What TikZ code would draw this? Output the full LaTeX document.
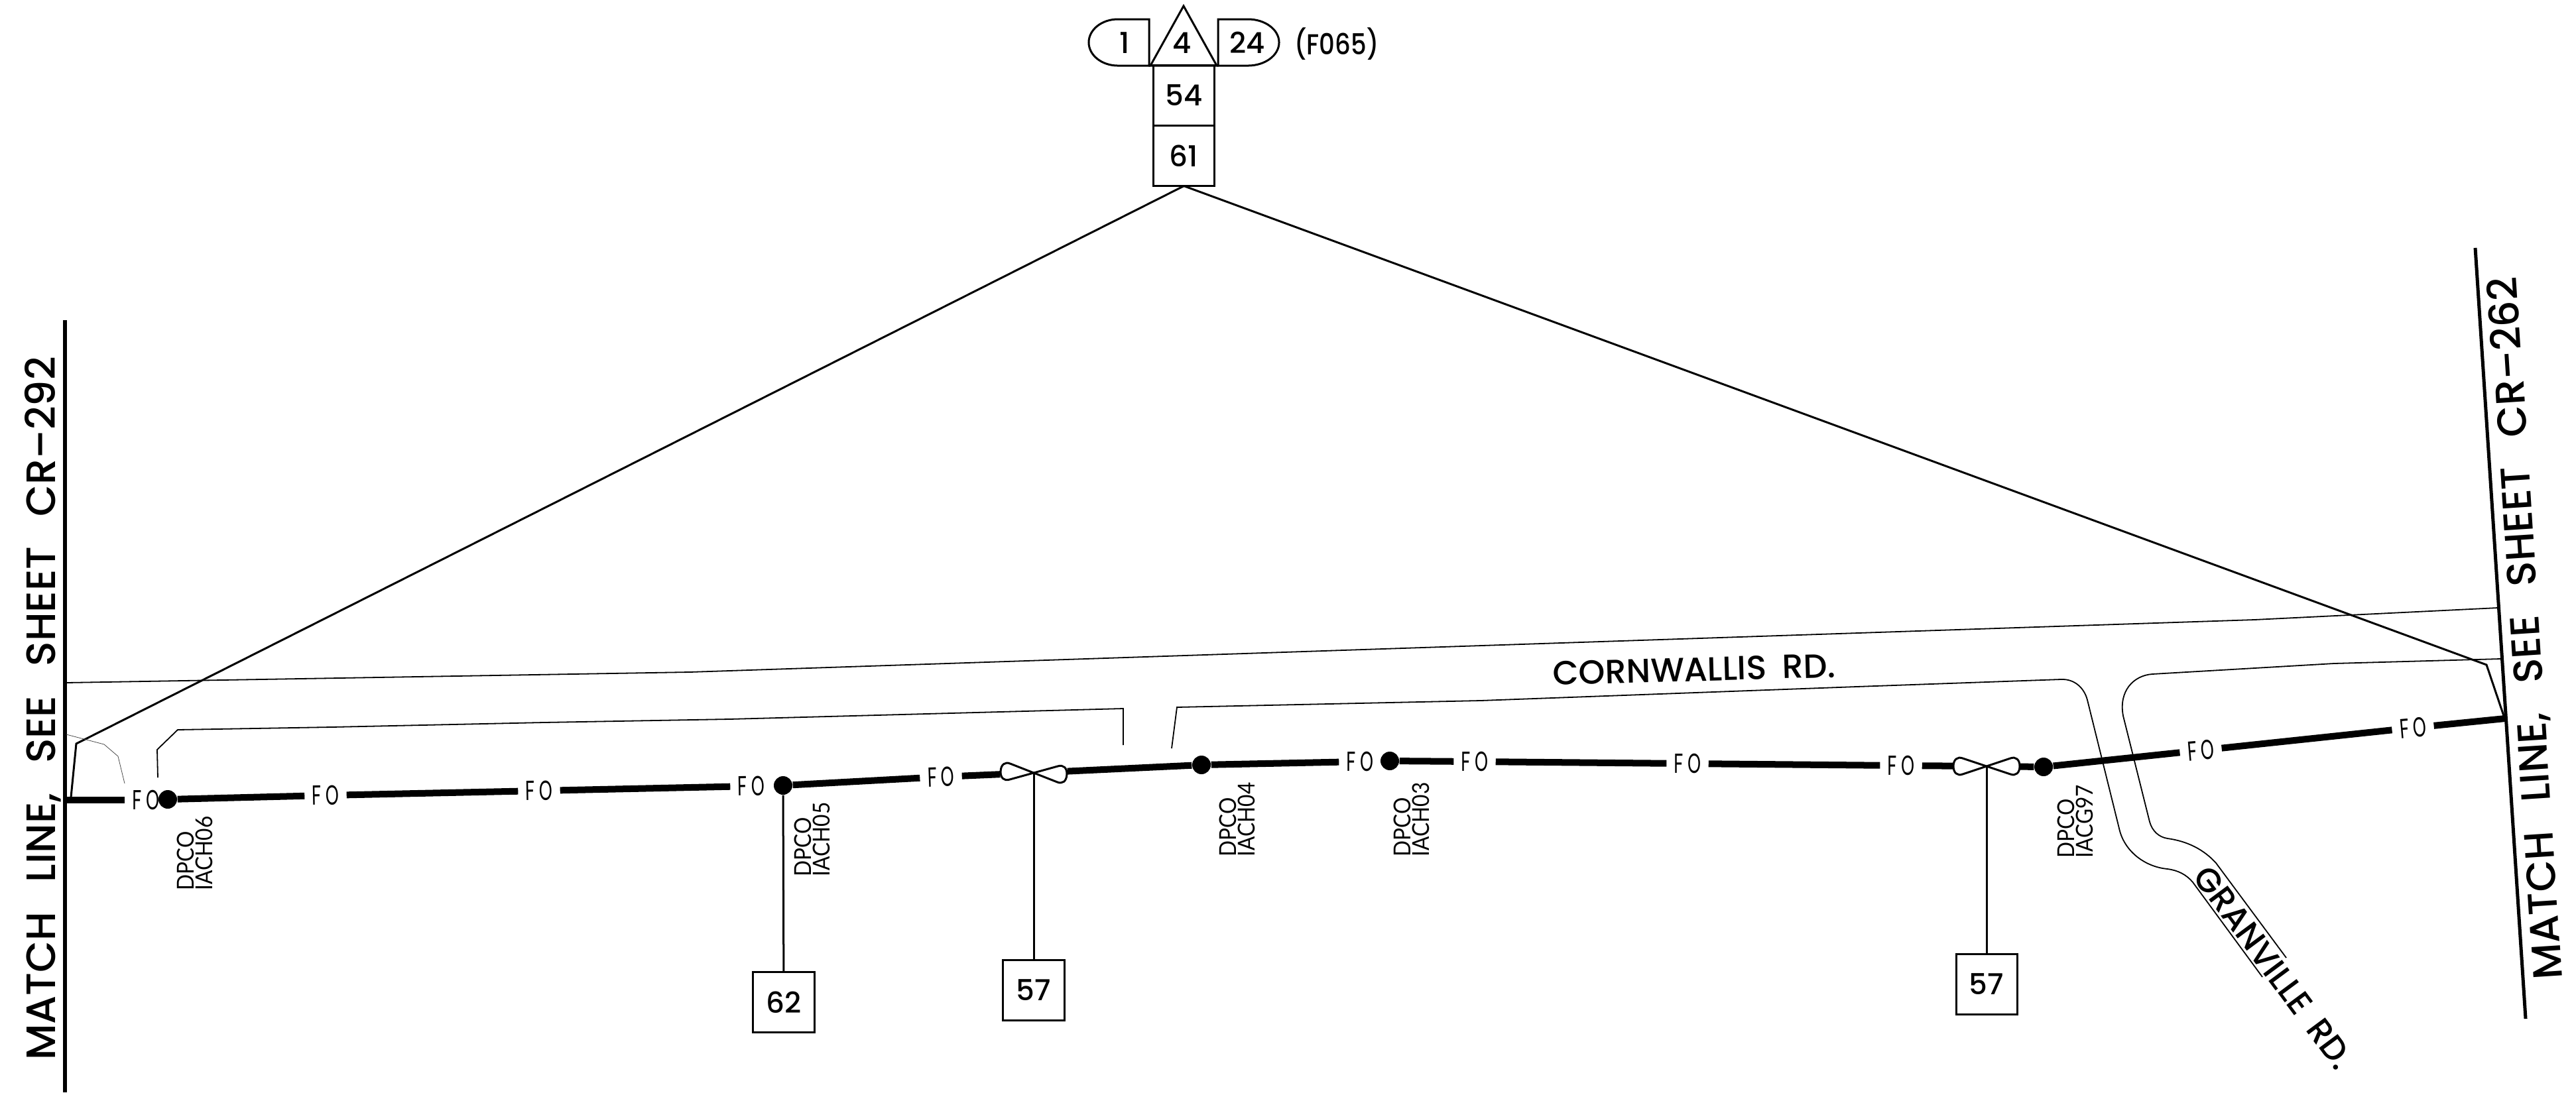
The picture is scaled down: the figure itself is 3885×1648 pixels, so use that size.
\documentclass[tikz,border=0pt]{standalone}
\usepackage{fontspec}
\setmainfont{Poppins Medium}
\newfontfamily\fofont[FakeStretch=0.62,LetterSpace=16]{Lato}
\newfontfamily\idfont[FakeStretch=0.9]{Lato}
\newfontfamily\tagfont[FakeStretch=0.85]{Poppins Medium}
\usetikzlibrary{arrows.meta, positioning}

\begin{document}
\begin{tikzpicture}[x=0.01cm, y=-0.01cm, font=\fontsize{12.4}{14}\selectfont]

% Styles
        \tikzstyle{numbox}=[rectangle, draw, line width=0.03cm, minimum width=0.92cm, minimum height=0.91cm, inner sep=0pt, outer sep=0pt]
        \tikzstyle{numtext}=[inner sep=0pt]
        \tikzstyle{fotext}=[inner sep=0pt, minimum width=0.62cm, minimum height=0.2cm, font=\fontsize{11.5}{12}\fofont]
        \tikzstyle{dpco}=[rotate=90, anchor=west, align=left, inner sep=0pt, font=\fontsize{10}{8}\idfont]
        \tikzstyle{station}=[circle, fill=black, minimum size=0.28cm, inner sep=0pt]
        \tikzstyle{fannode}=[minimum width=1cm, minimum height=0.1cm, inner sep=0pt]
        \tikzstyle{matchtext}=[inner sep=0pt, font=\fontsize{17.6}{20}\selectfont]
        \tikzstyle{roadtext}=[inner sep=0pt, font=\fontsize{14.4}{15}\selectfont]
        \tikzstyle{cable}=[line width=0.1cm]
        \tikzstyle{callout}=[line width=0.03cm]
        \tikzstyle{road}=[line width=0.018cm]
        \tikzstyle{kerb}=[line width=0.008cm, black!70]
        \tikzstyle{matchline}=[line width=0.05cm]

        \useasboundingbox (0,0) rectangle (3885,1648);

% Nodes
% Top tag
        \node[numbox] (box54) at (1785.5,144) {54};
        \node[numbox, below=0pt of box54] (box61) {61};
        \node[numtext] (tag1) at (1696,65) {1};
        \node[numtext] (tag4) at (1783,65) {4};
        \node[numtext] (tag24) at (1881,64) {24};
        \node[numtext, font=\fontsize{12.4}{14}\tagfont] (tagf) at (2016,66) {(F065)};
        \draw[callout] (1735,99) -- (1785,9) -- (1835,99) -- cycle;
        \draw[callout] (1733,29) -- (1686,29) arc[start angle=90, end angle=270, x radius=0.44cm, y radius=0.35cm] -- (1733,99) -- cycle;
        \draw[callout] (1837,29) -- (1882,29) arc[start angle=90, end angle=-90, x radius=0.47cm, y radius=0.35cm] -- (1837,99) -- cycle;

% Stations
        \node[station] (dot06) at (253,1206) {};
        \node[station] (dot05) at (1181,1185) {};
        \node[station] (dot04) at (1812,1154) {};
        \node[station] (dot03) at (2096,1148) {};
        \node[station] (dot97) at (3082,1157) {};

% Station labels
        \node[dpco] (id06) at (294,1344) {DPCO\\IACH06};
        \node[dpco] (id05) at (1225,1323) {DPCO\\IACH05};
        \node[dpco] (id04) at (1866,1293) {DPCO\\IACH04};
        \node[dpco] (id03) at (2129,1293) {DPCO\\IACH03};
        \node[dpco] (id97) at (3130,1295) {DPCO\\IACG97};

% Cable labels
        \node[fotext] (fo1) at (220,1207) {FO};
        \node[fotext, rotate=1] (fo2) at (491,1200) {FO};
        \node[fotext, rotate=1] (fo3) at (813,1193) {FO};
        \node[fotext, rotate=1] (fo4) at (1133,1186) {FO};
        \node[fotext, rotate=2] (fo5) at (1419,1172) {FO};
        \node[fotext] (fo6) at (2051,1149) {FO};
        \node[fotext] (fo7) at (2224,1149) {FO};
        \node[fotext] (fo8) at (2545,1152) {FO};
        \node[fotext] (fo9) at (2867,1155) {FO};
        \node[fotext, rotate=5] (fo10) at (3319,1132) {FO};
        \node[fotext, rotate=5] (fo11) at (3639,1098) {FO};

% Fans
        \foreach \fx/\fy/\ftilt/\fname in {1559/1166/-3/fan1, 2996/1156/0/fan2} {
                \node[fannode, rotate=-\ftilt] (\fname) at (\fx,\fy) {};
                \draw[callout, shift={(\fx,\fy)}, rotate=\ftilt] (0,0) -- (-36,-12) .. controls (-44,-15) and (-50,-10) .. (-50,0) .. controls (-50,10) and (-44,15) .. (-36,12) -- cycle;
                \draw[callout, shift={(\fx,\fy)}, rotate=\ftilt] (0,0) -- (36,-12) .. controls (44,-15) and (50,-10) .. (50,0) .. controls (50,10) and (44,15) .. (36,12) -- cycle;
        }

% Boxes
        \node[numbox] (box62) at (1182,1512) {62};
        \node[numbox] (box57a) at (1559,1494) {57};
        \node[numbox] (box57b) at (2996,1485) {57};

% Match lines
        \coordinate (mlTop) at (98,483);
        \coordinate (mlBot) at (98,1648);
        \coordinate (mrTop) at (3733,374);
        \coordinate (mrBot) at (3809,1537);
        \coordinate (cableL) at (98,1207);
        \coordinate (cableR) at (3778,1084);
        \coordinate (legL) at (107,1203);
        \coordinate (kneeL) at (115,1122);
        \coordinate (kneeR) at (3750,1003);
        \coordinate (legR) at (3776,1080);

        \node[matchtext, rotate=90] (textL) at (65,1069) {MATCH\hspace{0.72em}LINE,\hspace{0.72em}SEE\hspace{0.72em}SHEET\hspace{0.72em}CR--292};
        \node[matchtext, rotate=93.7] (textR) at (3811,948) {MATCH\hspace{0.72em}LINE,\hspace{0.72em}SEE\hspace{0.72em}SHEET\hspace{0.72em}CR--262};
        \node[roadtext, rotate=1.6] (cornwallis) at (2555,1010) {CORNWALLIS\hspace{0.2em} RD.};
        \node[roadtext, rotate=-53.4] (granville) at (3429,1460) {GRANVILLE\hspace{0.2em} RD.};

% Connections
        \draw[matchline] (mlTop) -- (mlBot);
        \draw[matchline] (mrTop) -- (mrBot);

% Cable
        \draw[cable] (cableL) -- (fo1);
        \draw[cable] (dot06) -- (fo2);
        \draw[cable] (fo2) -- (fo3);
        \draw[cable] (fo3) -- (fo4);
        \draw[cable] (dot05) -- (fo5);
        \draw[cable] (fo5) -- (fan1);
        \draw[cable] (fan1) -- (dot04);
        \draw[cable] (dot04) -- (fo6);
        \draw[cable] (dot03) -- (fo7);
        \draw[cable] (fo7) -- (fo8);
        \draw[cable] (fo8) -- (fo9);
        \draw[cable] (fo9) -- (fan2);
        \draw[cable] (fan2) -- (dot97);
        \draw[cable] (dot97) -- (fo10);
        \draw[cable] (fo10) -- (fo11);
        \draw[cable] (fo11) -- (cableR);

% Drops
        \draw[callout] (dot05) -- (box62);
        \draw[callout] (fan1.center) -- (box57a);
        \draw[callout] (fan2.center) -- (box57b);

% Span callouts
        \draw[callout] (legL) -- (kneeL) -- (box61.south);
        \draw[callout] (box61.south) -- (kneeR) -- (legR);

% Roads
        \draw[road] (100,1030) -- (1040,1014) -- (3400,935) -- (3767,917);
        \draw[road] (238,1173) -- (237,1131) -- (268,1101) -- (500,1097) -- (820,1090) -- (1100,1085) -- (1694,1069) -- (1694,1124);
        \draw[road] (1767,1129) -- (1775,1067) -- (2233,1057) -- (2800,1036) -- (3108,1025) .. controls (3128,1024) and (3143,1037) .. (3148,1056) -- (3197,1254) .. controls (3206,1286) and (3236,1308) .. (3269,1311) .. controls (3284,1313) and (3297,1319) .. (3307,1331) -- (3412,1474);
        \draw[road] (3771,994) -- (3520,1001) -- (3246,1017) .. controls (3218,1019) and (3195,1042) .. (3202,1080) -- (3242,1240) .. controls (3246,1254) and (3256,1263) .. (3269,1265) .. controls (3298,1269) and (3323,1281) .. (3342,1302) -- (3448,1445);
        \draw[kerb] (100,1108) -- (157,1123) -- (178,1141) -- (188,1182);

\end{tikzpicture}
\end{document}
